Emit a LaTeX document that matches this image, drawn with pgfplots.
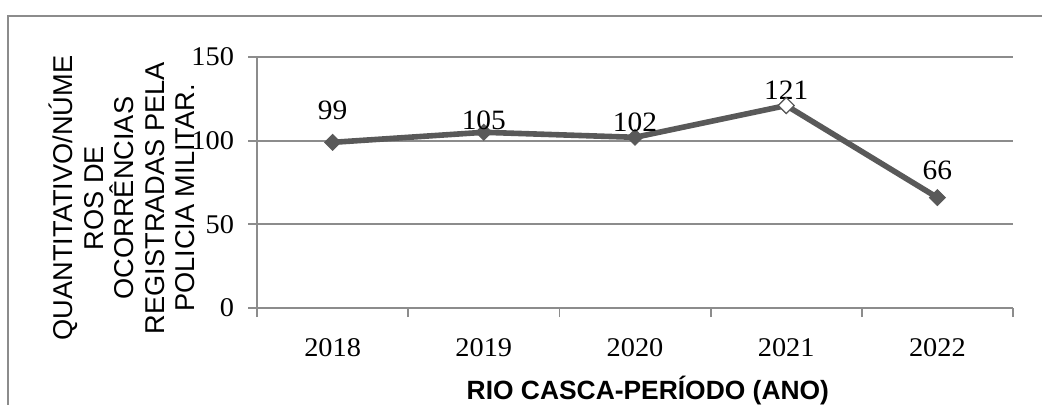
\documentclass[border=0pt]{standalone}
\usepackage{fontspec}
\setmainfont{Liberation Serif}[FakeStretch=1.05]
\setsansfont{Liberation Sans}
\usepackage{pgfplots}
\pgfplotsset{compat=1.18}
\usepackage{pgfplotstable}

\definecolor{serie}{HTML}{595959}
\definecolor{grade}{HTML}{8C8C8C}

% ano, ocorrências, deslocamento vertical do rótulo (pt)
\pgfplotstableread{
x ano  y   off
0 2018 99  11.5
1 2019 105 1.5
2 2020 102 3
3 2021 121 3
4 2022 66  9
}\dados

\begin{document}
\begin{tikzpicture}
\useasboundingbox (0,0) rectangle (521pt,-202.5pt);
\begin{scope}
\clip (0,0) rectangle (521pt,-202.5pt);
\draw[grade, line width=0.9pt] (4pt,-210pt) -- (4pt,-8pt) -- (530pt,-8pt);
\end{scope}
\begin{axis}[
  at={(128.5pt,-154pt)}, anchor=south west,
  scale only axis, width=378pt, height=125.5pt,
  xmin=-0.5, xmax=4.5, ymin=0, ymax=150,
  axis lines=left, axis line style={-, grade, line width=0.9pt},
  xtick={-0.5,0.5,...,4.5},
  x tick label as interval,
  xticklabels={2018,2019,2020,2021,2022},
  ytick={0,50,100,150},
  tick align=outside, major tick length=4.5pt,
  tick style={grade, line width=0.9pt},
  ymajorgrids, grid style={grade, line width=0.9pt},
  /pgf/number format/assume math mode=true,
  tick label style={font=\fontsize{13.5}{15}\selectfont},
  yticklabel style={anchor=east, xshift=-3.5pt},
  xticklabel style={anchor=base, yshift=-19.5pt},
  xlabel={\bfseries RIO CASCA-PERÍODO (ANO)},
  xlabel style={font=\sffamily\fontsize{13.2}{16}\selectfont,
    at={(axis description cs:0.517,0)}, anchor=base, yshift=-45.5pt},
  ylabel={QUANTITATIVO/NÚME\\ROS DE\\OCORRÊNCIAS\\REGISTRADAS PELA\\POLICIA MILITAR.},
  ylabel style={font=\sffamily\fontsize{13.6}{15.25}\selectfont, align=center,
    at={(axis description cs:-0.1786,0.438)}, anchor=center},
  clip=false,
]
\addplot[serie, line width=2.8pt, mark=square*, mark size=2.8pt,
  mark options={rotate=45, solid, line width=0.5pt},
  nodes near coords,
  point meta=explicit symbolic,
  visualization depends on={\thisrow{off} \as \off},
  every node near coord/.append style={font=\fontsize{14}{16}\selectfont,
    text=black, anchor=base, yshift=\off pt, inner sep=0pt},
] table[x=x, y=y, meta=y] {\dados};
% marcador vazado de 2021
\addplot[only marks, mark=square*, mark size=2.8pt,
  mark options={rotate=45, fill=white, draw=serie, line width=0.6pt}]
  coordinates {(3,121)};
\end{axis}
\end{tikzpicture}
\end{document}
